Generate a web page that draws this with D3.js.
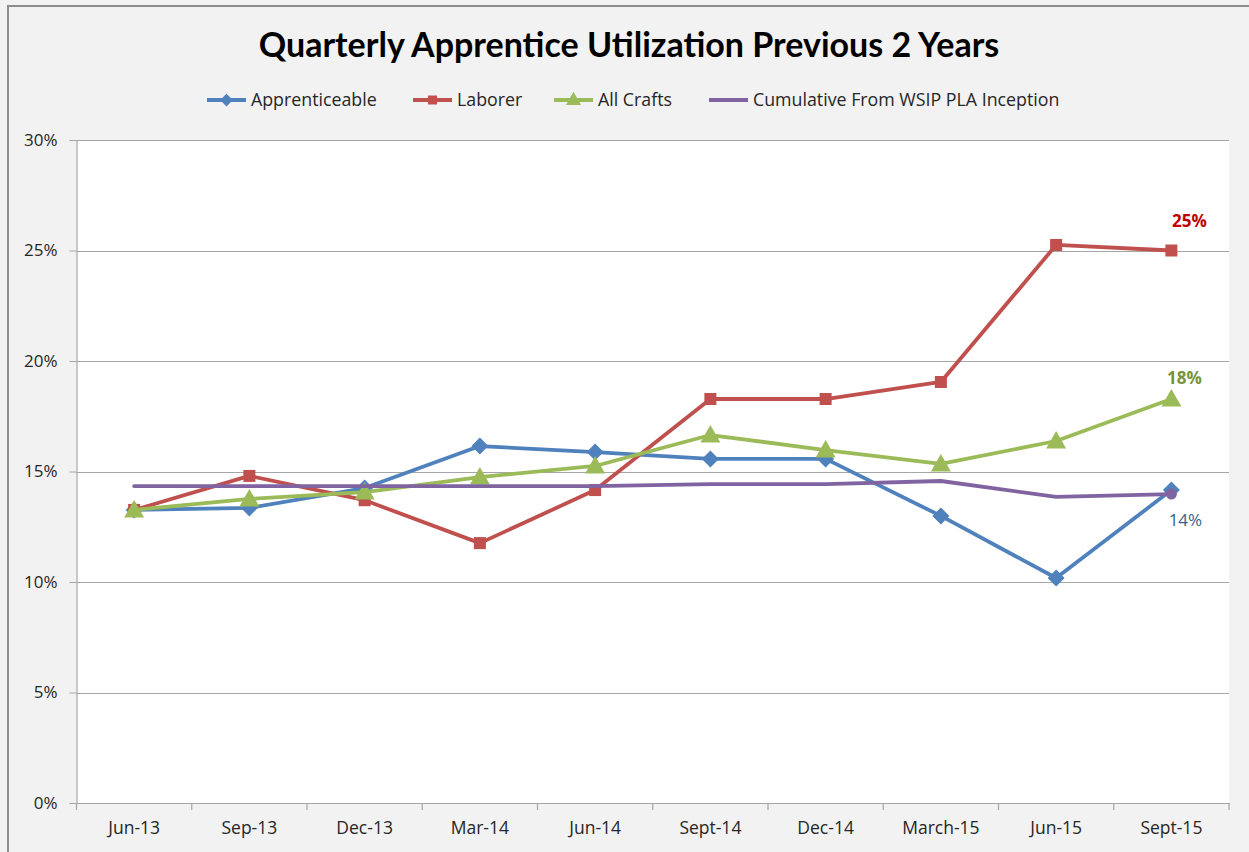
<!DOCTYPE html>
<html>
<head>
<meta charset="utf-8">
<script src="https://cdn.jsdelivr.net/npm/d3@7"></script>
<style>
  html, body { margin: 0; padding: 0; background: #f2f2f2; overflow: hidden; }
  svg { display: block; font-family: Lato, "Open Sans", sans-serif; }
</style>
</head>
<body>
<svg id="chart" width="1249" height="852"></svg>
<script>
// quarterly apprentice utilization chart
var quarters = ["Jun-13", "Sep-13", "Dec-13", "Mar-14", "Jun-14", "Sept-14", "Dec-14", "March-15", "Jun-15", "Sept-15"];
var apprenticeable = [0.1326, 0.1335, 0.1425, 0.1615, 0.1588, 0.1557, 0.1557, 0.1299, 0.1018, 0.1416];
var laborer = [0.1326, 0.1480, 0.1370, 0.1176, 0.1416, 0.1828, 0.1828, 0.1905, 0.2525, 0.2500];
var allCrafts = [0.1326, 0.1376, 0.1407, 0.1475, 0.1525, 0.1665, 0.1597, 0.1534, 0.1638, 0.1828];
var cumulative = [0.1434, 0.1434, 0.1434, 0.1434, 0.1434, 0.1443, 0.1443, 0.1457, 0.1385, 0.1398];
var yTicks = [0, 0.05, 0.10, 0.15, 0.20, 0.25, 0.30];

var series = [
    {name: "Apprenticeable", values: apprenticeable, color: "#4f81bd", marker: "diamond"},
    {name: "Laborer", values: laborer, color: "#c0504d", marker: "square"},
    {name: "All Crafts", values: allCrafts, color: "#9bbb59", marker: "triangle"},
    {name: "Cumulative From WSIP PLA Inception", values: cumulative, color: "#8064a2", marker: "none"}
];

var svg = d3.select("#chart");

//outer frame
svg.append("rect")
    .attr("x", 8).attr("y", 6)
    .attr("width", 1260).attr("height", 870)
    .attr("fill", "#f2f2f2")
    .attr("stroke", "#8c8c8c")
    .attr("stroke-width", 2);

var plotLeft = 76.5, plotRight = 1229, plotTop = 140, plotBottom = 803;

var x = d3.scaleBand().domain(quarters).range([plotLeft, plotRight]);
var y = d3.scaleLinear().domain([0, 0.30]).range([plotBottom, plotTop]);
var cx = function(q) { return x(q) + x.bandwidth() / 2; };

//plot area
svg.append("rect")
    .attr("x", plotLeft).attr("y", plotTop)
    .attr("width", plotRight - plotLeft).attr("height", plotBottom - plotTop)
    .attr("fill", "#ffffff");

//gridlines
svg.append("g")
    .selectAll("line")
    .data(yTicks.filter(function(d) { return d > 0; }))
    .enter().append("line")
    .attr("x1", plotLeft).attr("x2", plotRight)
    .attr("y1", function(d) { return Math.round(y(d)) + 0.5; })
    .attr("y2", function(d) { return Math.round(y(d)) + 0.5; })
    .attr("stroke", "#a6a6a6")
    .attr("stroke-width", 1.2);

//y axis
var yAxis = svg.append("g")
    .attr("transform", "translate(" + plotLeft + ",0)")
    .call(d3.axisLeft(y).tickValues(yTicks).tickFormat(d3.format(".0%")).tickSize(7).tickPadding(12));
yAxis.select(".domain").attr("stroke", "#a6a6a6").attr("stroke-width", 1.2);
yAxis.selectAll(".tick line").attr("stroke", "#a6a6a6");
yAxis.selectAll(".tick text")
    .attr("fill", "#262626")
    .style("font-size", "17px")
    .style("font-family", "'Open Sans', sans-serif");

//x axis
var xAxis = svg.append("g")
    .attr("transform", "translate(0," + plotBottom + ")")
    .call(d3.axisBottom(x).tickSize(0).tickPadding(19));
xAxis.select(".domain").attr("stroke", "#a6a6a6").attr("stroke-width", 1.2);
xAxis.selectAll(".tick text")
    .attr("fill", "#262626")
    .style("font-size", "17.5px")
    .style("font-family", "'Open Sans', sans-serif");
//category boundary ticks
svg.append("g")
    .selectAll("line")
    .data(quarters.concat(["end"]))
    .enter().append("line")
    .attr("x1", function(d, i) { return plotLeft + i * x.bandwidth(); })
    .attr("x2", function(d, i) { return plotLeft + i * x.bandwidth(); })
    .attr("y1", plotBottom).attr("y2", plotBottom + 7)
    .attr("stroke", "#a6a6a6")
    .attr("stroke-width", 1.2);

var line = d3.line()
    .x(function(d, i) { return cx(quarters[i]); })
    .y(function(d) { return y(d); });

function drawMarker(g, type, color, px, py) {
    if (type === "diamond") {
        g.append("path").attr("d", "M" + px + "," + (py - 8.5) + "L" + (px + 8.5) + "," + py + "L" + px + "," + (py + 8.5) + "L" + (px - 8.5) + "," + py + "Z")
            .attr("fill", color);
    } else if (type === "square") {
        g.append("rect").attr("x", px - 6).attr("y", py - 6).attr("width", 12).attr("height", 12)
            .attr("fill", color);
    } else if (type === "triangle") {
        g.append("path").attr("d", "M" + px + "," + (py - 10) + "L" + (px + 10) + "," + (py + 7.5) + "L" + (px - 10) + "," + (py + 7.5) + "Z")
            .attr("fill", color);
    } else if (type === "circle") {
        g.append("circle").attr("cx", px).attr("cy", py).attr("r", 5.5).attr("fill", color);
    }
}

//draw in Excel order so later series sit on top
series.forEach(function(s) {
    var g = svg.append("g");
    g.append("path")
        .datum(s.values)
        .attr("d", line)
        .attr("fill", "none")
        .attr("stroke", s.color)
        .attr("stroke-width", 3.8)
        .attr("stroke-linejoin", "round")
        .attr("stroke-linecap", "round");
    s.values.forEach(function(v, i) {
        drawMarker(g, s.marker, s.color, cx(quarters[i]), y(v));
    });
    if (s.marker === "none") {
        var last = s.values.length - 1;
        drawMarker(g, "circle", s.color, cx(quarters[last]), y(s.values[last]));
    }
});

//data labels on the last quarter
var lastQ = quarters[quarters.length - 1];
var labels = [
    {value: laborer[laborer.length - 1], text: "25%", color: "#c00000", weight: "bold", dx: 18, dy: -24},
    {value: allCrafts[allCrafts.length - 1], text: "18%", color: "#77933c", weight: "bold", dx: 13, dy: -15},
    {value: apprenticeable[apprenticeable.length - 1], text: "14%", color: "#376092", weight: "normal", dx: 14, dy: 36}
];
svg.append("g")
    .selectAll("text")
    .data(labels)
    .enter().append("text")
    .attr("x", function(d) { return cx(lastQ) + d.dx; })
    .attr("y", function(d) { return y(d.value) + d.dy; })
    .attr("text-anchor", "middle")
    .attr("fill", function(d) { return d.color; })
    .attr("font-weight", function(d) { return d.weight; })
    .style("font-size", "17px")
    .style("font-family", "'Open Sans', sans-serif")
    .text(function(d) { return d.text; });

//title
svg.append("text")
    .attr("x", 629).attr("y", 57)
    .attr("text-anchor", "middle")
    .attr("font-weight", "bold")
    .style("font-size", "34px")
    .attr("fill", "#000")
    .text("Quarterly Apprentice Utilization Previous 2 Years");

//legend
var legendX = [207, 413, 554, 709];
var legend = svg.append("g");
series.forEach(function(s, i) {
    var lg = legend.append("g").attr("transform", "translate(" + legendX[i] + ",100)");
    lg.append("line").attr("x1", 0).attr("x2", 39).attr("y1", 0).attr("y2", 0)
        .attr("stroke", s.color).attr("stroke-width", 3.8);
    if (s.marker !== "none") {
        var mg = lg.append("g").attr("transform", "translate(19.5,0) scale(0.75)");
        drawMarker(mg, s.marker, s.color, 0, s.marker === "triangle" ? -1 : 0);
    }
    lg.append("text")
        .attr("x", 44).attr("y", 6)
        .attr("fill", "#262626")
        .style("font-size", "17.8px")
        .style("font-family", "'Open Sans', sans-serif")
        .text(s.name);
});
</script>
</body>
</html>
